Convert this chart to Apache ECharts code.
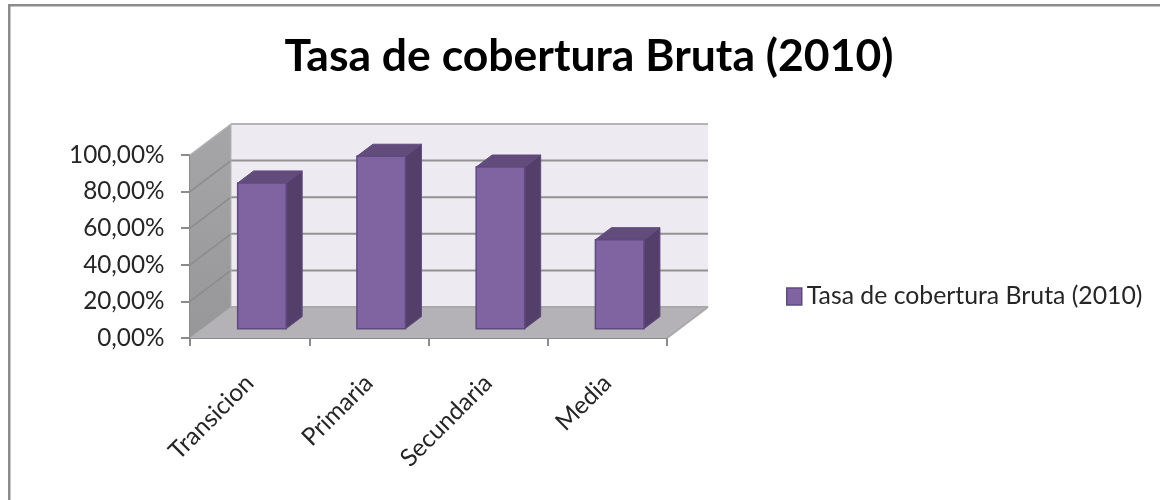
<!DOCTYPE html>
<html>
<head>
<meta charset="utf-8">
<style>html,body{margin:0;padding:0;background:#fff}#c{width:1160px;height:500px}</style>
<script src="https://cdn.jsdelivr.net/npm/echarts@6/dist/echarts.min.js"></script>
</head>
<body>
<div id="c"></div>
<script>
const categories = ['Transicion', 'Primaria', 'Secundaria', 'Media'];
const coverage = [0.796, 0.942, 0.883, 0.486];
const yTicks = [0, 0.2, 0.4, 0.6, 0.8, 1];
const seriesName = 'Tasa de cobertura Bruta (2010)';
const titleText = 'Tasa de cobertura Bruta (2010)';

const DEPTH_X = 41, DEPTH_Y = -31;      // oblique projection of the chart depth
const BAR_NEAR = 0.30, BAR_FAR = 0.69;  // bar position within the depth
const BAR_SHARE = 0.407;

const font = 'Lato, "Open Sans", sans-serif';
const chart = echarts.init(document.getElementById('c'), null, {renderer: 'canvas'});

function poly(points, fill, stroke, lw) {
  return {type: 'polygon', shape: {points}, style: {fill, stroke: stroke || fill, lineWidth: lw == null ? 0 : lw}};
}
function line(a, b, stroke, lw) {
  return {type: 'line', shape: {x1: a[0], y1: a[1], x2: b[0], y2: b[1]}, style: {stroke, lineWidth: lw}};
}

function renderWalls(params, api) {
  const cs = params.coordSys;
  const L = cs.x, R = cs.x + cs.width;
  const y0 = api.coord([0, 0])[1], yTop = api.coord([0, 1])[1];
  const dx = DEPTH_X, dy = DEPTH_Y;
  const kids = [
    poly([[L + dx, yTop + dy], [R + dx, yTop + dy], [R + dx, y0 + dy], [L + dx, y0 + dy]], '#edebf1'),
    poly([[L, y0], [R, y0], [R + dx, y0 + dy], [L + dx, y0 + dy]], '#b4b2b6'),
    poly([[L, y0], [L, yTop], [L + dx, yTop + dy], [L + dx, y0 + dy]],
      new echarts.graphic.LinearGradient(0, 0, 0, 1, [{offset: 0, color: '#a6a5a7'}, {offset: 1, color: '#979698'}]))
  ];
  yTicks.forEach(function (v) {
    const y = api.coord([0, v])[1];
    const col = v === 1 ? '#b4b4b4' : (v === 0 ? '#a9a9a9' : '#929292');
    if (v > 0 && v < 1) kids.push(line([L, y], [L + dx, y + dy], '#8c8c8c', 1.5));
    if (v === 1) kids.push(line([L, y], [L + dx, y + dy], '#b4b4b4', 1.5));
    kids.push(line([L + dx, y + dy], [R + dx, y + dy], col, 2));
  });
  kids.push(line([L + dx, yTop + dy], [L + dx, y0 + dy], '#b4b4b4', 1));
  kids.push(line([L, y0], [L + dx, y0 + dy], '#a9a9a9', 1));
  kids.push(line([R, y0], [R + dx, y0 + dy], '#a9a9a9', 2));
  return {type: 'group', children: kids};
}

function renderBar(params, api) {
  const idx = api.value(0), v = api.value(1);
  const band = api.size([1, 0])[0];
  const w = band * BAR_SHARE;
  const top = api.coord([idx, v]), base = api.coord([idx, 0]);
  const ox = DEPTH_X * BAR_NEAR, oy = DEPTH_Y * BAR_NEAR;
  const bx = DEPTH_X * (BAR_FAR - BAR_NEAR), by = DEPTH_Y * (BAR_FAR - BAR_NEAR);
  const x0 = base[0] - w / 2 + ox, x1 = x0 + w;
  const yb = base[1] + oy, yt = top[1] + oy;
  const edge = '#5f4a80';
  return {type: 'group', children: [
    poly([[x1, yt], [x1 + bx, yt + by], [x1 + bx, yb + by], [x1, yb]], '#533f69', edge, 1),
    poly([[x0, yt], [x1, yt], [x1 + bx, yt + by], [x0 + bx, yt + by]], '#624c7c', edge, 1),
    poly([[x0, yt], [x1, yt], [x1, yb], [x0, yb]], '#8063a1', edge, 1.5)
  ]};
}

chart.setOption({
  animation: false,
  backgroundColor: '#fff',
  title: {
    text: titleText, left: 584, top: 29, textAlign: 'center',
    textStyle: {fontFamily: font, fontWeight: 'bold', fontSize: 44.5, color: '#000'}
  },
  legend: {
    data: [{name: seriesName, icon: 'rect'}],
    left: 781, top: 279, itemWidth: 15, itemHeight: 17, itemGap: 5,
    textStyle: {fontFamily: font, fontSize: 24.8, color: '#262626'},
    itemStyle: {color: '#8063a1', borderColor: '#5f4a80', borderWidth: 1.5}
  },
  grid: {left: 190, right: 493, top: 155, bottom: 162, containLabel: false},
  xAxis: {
    type: 'category', data: categories, boundaryGap: true,
    axisLine: {show: true, lineStyle: {color: '#8b8b8b', width: 2}},
    axisTick: {show: true, length: 8, alignWithLabel: false, lineStyle: {color: '#8b8b8b', width: 2}},
    axisLabel: {rotate: 45, margin: 41, interval: 0, fontFamily: font, fontSize: 24.5, color: '#262626'},
    splitLine: {show: false}
  },
  yAxis: {
    type: 'value', min: 0, max: 1, interval: 0.2,
    axisLine: {show: true, lineStyle: {color: '#8b8b8b', width: 2}},
    axisTick: {show: true, length: 9, lineStyle: {color: '#8b8b8b', width: 2}},
    axisLabel: {
      margin: 25.5, fontFamily: font, fontSize: 24.3, color: '#262626',
      formatter: function (v) { return (v * 100).toFixed(2).replace('.', ',') + '%'; }
    },
    splitLine: {show: false}
  },
  series: [
    {type: 'custom', name: 'walls', silent: true, z: 1, coordinateSystem: 'cartesian2d', clip: false,
     renderItem: renderWalls, data: [[0, 0]], encode: {x: 0, y: 1}},
    {type: 'custom', name: seriesName, z: 3, coordinateSystem: 'cartesian2d', clip: false,
     renderItem: renderBar, data: coverage.map(function (v, i) { return [i, v]; }), encode: {x: 0, y: 1},
     itemStyle: {color: '#8063a1'}}
  ],
  graphic: [
    {type: 'rect', silent: true, z: 0, shape: {x: 8, y: 4, width: 1160, height: 2.5}, style: {fill: '#8c8c8c'}},
    {type: 'rect', silent: true, z: 0, shape: {x: 8, y: 4, width: 2.5, height: 500}, style: {fill: '#8c8c8c'}}
  ]
});
</script>
</body>
</html>
